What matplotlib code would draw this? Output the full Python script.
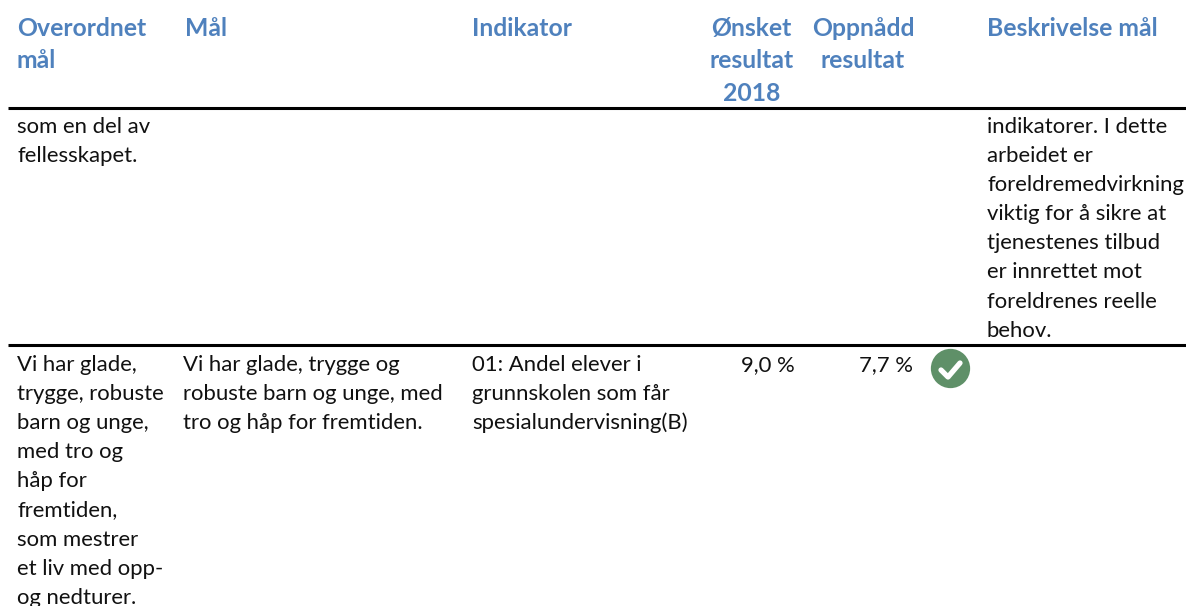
import matplotlib
matplotlib.use("Agg")
import matplotlib.pyplot as plt

# Table content
headers = [
    ["Overordnet", "mål"],
    ["Mål"],
    ["Indikator"],
    ["Ønsket", "resultat", "2018"],
    ["Oppnådd", "resultat"],
    ["Beskrivelse mål"],
]
top_col1 = ["som en del av", "fellesskapet."]
top_col6 = ["indikatorer. I dette", "arbeidet er", "foreldremedvirkning", "viktig for å sikre at",
            "tjenestenes tilbud", "er innrettet mot", "foreldrenes reelle", "behov."]
row_col1 = ["Vi har glade,", "trygge, robuste", "barn og unge,", "med tro og", "håp for",
            "fremtiden,", "som mestrer", "et liv med opp-", "og nedturer."]
row_col2 = ["Vi har glade, trygge og", "robuste barn og unge, med", "tro og håp for fremtiden."]
row_col3 = ["01: Andel elever i", "grunnskolen som får", "spesialundervisning(B)"]
wanted = "9,0 %"
achieved = "7,7 %"

# Layout in image pixels
W, H = 1186, 606
header_x = [17, 185, 472, 751.5, 863, 987]
header_ha = ["left", "left", "left", "center", "center", "left"]
body_x = [17, 183, 472, 987]
header_base = 36
header_step = 32.5
top_base = 133
row_base = 371
step = 29.1

header_color = "#4f81bd"
text_color = "#111111"
body_size = 15.9
header_size = 17.8

fig = plt.figure(figsize=(W / 100, H / 100), dpi=100)
ax = fig.add_axes([0, 0, 1, 1])
ax.set_xlim(0, W)
ax.set_ylim(H, 0)
ax.axis("off")
plt.rcParams["font.family"] = ["Lato", "DejaVu Sans"]


def put_lines(lines, x, base, dy, **kw):
    for i, s in enumerate(lines):
        ax.text(x, base + i * dy, s, va="baseline", **kw)


for lines, x, ha in zip(headers, header_x, header_ha):
    put_lines(lines, x, header_base, header_step, ha=ha, fontsize=header_size,
              fontweight="bold", color=header_color)

ax.plot([8, W], [108, 108], color="black", lw=2.2, solid_capstyle="butt")
ax.plot([8, W], [345, 345], color="black", lw=2.2, solid_capstyle="butt")

body = dict(fontsize=body_size, color=text_color, ha="left")
put_lines(top_col1, body_x[0], top_base, step, **body)
put_lines(top_col6, body_x[3], top_base, step, **body)
put_lines(row_col1, body_x[0], row_base, step, **body)
put_lines(row_col2, body_x[1], row_base, step, **body)
put_lines(row_col3, body_x[2], row_base, step, **body)

ax.text(795, row_base, wanted, ha="right", va="baseline", fontsize=body_size, color=text_color)
ax.text(913, row_base, achieved, ha="right", va="baseline", fontsize=body_size, color=text_color)

# Status icon: green disc with white tick
ax.scatter([950], [367.5], s=800, color="#5f9068", linewidths=0, zorder=3)
ax.plot([941, 948, 960], [370, 377, 363], color="white", lw=3.8, zorder=4,
        solid_capstyle="round", solid_joinstyle="round")

fig.savefig("out.png", dpi=100)
